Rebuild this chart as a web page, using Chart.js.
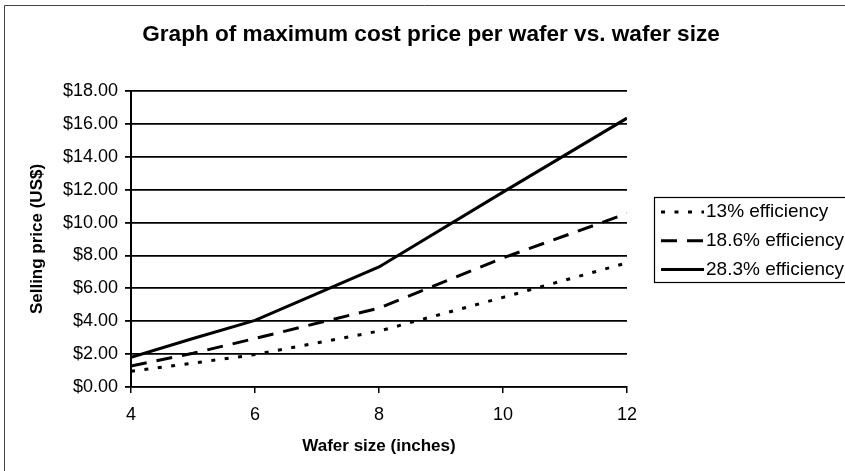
<!DOCTYPE html>
<html>
<head>
<meta charset="utf-8">
<title>Maximum cost price per wafer</title>
<script src="https://cdn.jsdelivr.net/npm/chart.js@4.4.1/dist/chart.umd.min.js"></script>
<style>
  html, body { margin: 0; padding: 0; background: #fff; }
</style>
</head>
<body>
<canvas id="waferChart" width="845" height="471"></canvas>
<script>
// wafer diameter (inches)
const waferSizes = [4, 5, 6, 8, 10, 12];

// maximum selling price per wafer (US$) at each cell efficiency
const eff13 = [0.95, 1.45, 1.97, 3.4, 5.45, 7.55];
const eff186 = [1.28, 2.05, 2.95, 4.8, 7.85, 10.55];
const eff283 = [1.8, 2.95, 4.05, 7.3, 11.85, 16.35];

const seriesLabels = ['13% efficiency', '18.6% efficiency', '28.3% efficiency'];

const xTicks = [4, 6, 8, 10, 12];
const yTicks = [0, 2, 4, 6, 8, 10, 12, 14, 16, 18];

const FONT = '"Liberation Sans", Arial, sans-serif';

const toPoints = ys => waferSizes.map((x, i) => ({ x: x, y: ys[i] }));

function lineSet(label, ys, dash) {
  return {
    label: label,
    data: toPoints(ys),
    borderColor: '#000',
    backgroundColor: '#000',
    borderWidth: 3,
    borderDash: dash,
    borderCapStyle: 'butt',
    pointRadius: 0,
    tension: 0,
    fill: false
  };
}

// white page with the thin outer frame of the chart sheet
const paperFrame = {
  id: 'paperFrame',
  beforeDraw(chart) {
    const ctx = chart.ctx;
    ctx.save();
    ctx.fillStyle = '#fff';
    ctx.fillRect(0, 0, chart.width, chart.height);
    ctx.strokeStyle = '#444';
    ctx.lineWidth = 1;
    ctx.beginPath();
    ctx.moveTo(4.5, chart.height);
    ctx.lineTo(4.5, 5.5);
    ctx.lineTo(chart.width, 5.5);
    ctx.stroke();
    ctx.restore();
  }
};

// legend in a bordered box to the right of the plot
const boxedLegend = {
  id: 'boxedLegend',
  afterDraw(chart, args, o) {
    const ctx = chart.ctx;
    ctx.save();
    ctx.strokeStyle = '#000';
    ctx.lineWidth = 1.2;
    ctx.strokeRect(o.x + 0.5, o.y + 0.5, o.width, o.height);
    ctx.font = o.fontSize + 'px ' + FONT;
    ctx.textBaseline = 'middle';
    ctx.textAlign = 'left';
    chart.data.datasets.forEach((ds, i) => {
      const y = o.y + o.firstRow + i * o.rowGap;
      ctx.strokeStyle = ds.borderColor;
      ctx.lineWidth = ds.borderWidth;
      ctx.setLineDash(ds.borderDash || []);
      ctx.beginPath();
      ctx.moveTo(o.x + 7, y);
      ctx.lineTo(o.x + 7 + o.sample, y);
      ctx.stroke();
      ctx.setLineDash([]);
      ctx.fillStyle = '#000';
      ctx.fillText(ds.label, o.x + 9 + o.sample, y);
    });
    ctx.restore();
  }
};

new Chart(document.getElementById('waferChart'), {
  type: 'line',
  data: {
    datasets: [
      lineSet(seriesLabels[0], eff13, [4, 9.5]),
      lineSet(seriesLabels[1], eff186, [16, 10]),
      lineSet(seriesLabels[2], eff283, [])
    ]
  },
  options: {
    responsive: false,
    animation: false,
    layout: { padding: { left: 17, right: 0, top: 0, bottom: 0 } },
    plugins: {
      legend: { display: false },
      tooltip: { enabled: false },
      title: {
        display: true,
        text: 'Graph of maximum cost price per wafer vs. wafer size',
        color: '#000',
        font: { family: FONT, size: 22.6, weight: 'bold' },
        padding: { top: 21.5, bottom: 42.4 }
      },
      boxedLegend: {
        x: 654, y: 197, width: 200, height: 85,
        firstRow: 15, rowGap: 28.8, sample: 43, fontSize: 19
      }
    },
    scales: {
      x: {
        type: 'linear',
        position: 'bottom',
        min: 4,
        max: 12,
        afterBuildTicks: s => { s.ticks = xTicks.map(v => ({ value: v })); },
        afterFit: s => { s.height = 84; },
        grid: { display: true, drawOnChartArea: false, drawTicks: true, tickLength: 6, color: '#000', lineWidth: 1.5 },
        border: { display: true, color: '#000', width: 1.5 },
        ticks: { color: '#000', font: { family: FONT, size: 18 }, padding: 11, maxRotation: 0 },
        title: {
          display: true,
          text: 'Wafer size (inches)',
          color: '#000',
          font: { family: FONT, size: 17, weight: 'bold' },
          padding: { top: 0, bottom: 14.8 }
        }
      },
      y: {
        type: 'linear',
        position: 'left',
        min: 0,
        max: 18,
        afterBuildTicks: s => { s.ticks = yTicks.map(v => ({ value: v })); },
        afterFit: s => { s.width = 114; },
        grid: { color: '#000', lineWidth: 1.8, tickLength: 6 },
        border: { display: true, color: '#000', width: 2 },
        ticks: {
          color: '#000',
          font: { family: FONT, size: 18 },
          padding: 7,
          callback: v => '$' + v.toFixed(2)
        },
        title: {
          display: true,
          text: 'Selling price (US$)',
          color: '#000',
          font: { family: FONT, size: 17, weight: 'bold' },
          padding: { top: 10, bottom: 0 }
        }
      },
      // empty right-hand axis that reserves room for the legend box
      legendSpace: {
        type: 'linear',
        position: 'right',
        display: true,
        grid: { display: false },
        border: { display: false },
        ticks: { display: false },
        afterFit: s => { s.width = 218; }
      }
    }
  },
  plugins: [paperFrame, boxedLegend]
});
</script>
</body>
</html>
